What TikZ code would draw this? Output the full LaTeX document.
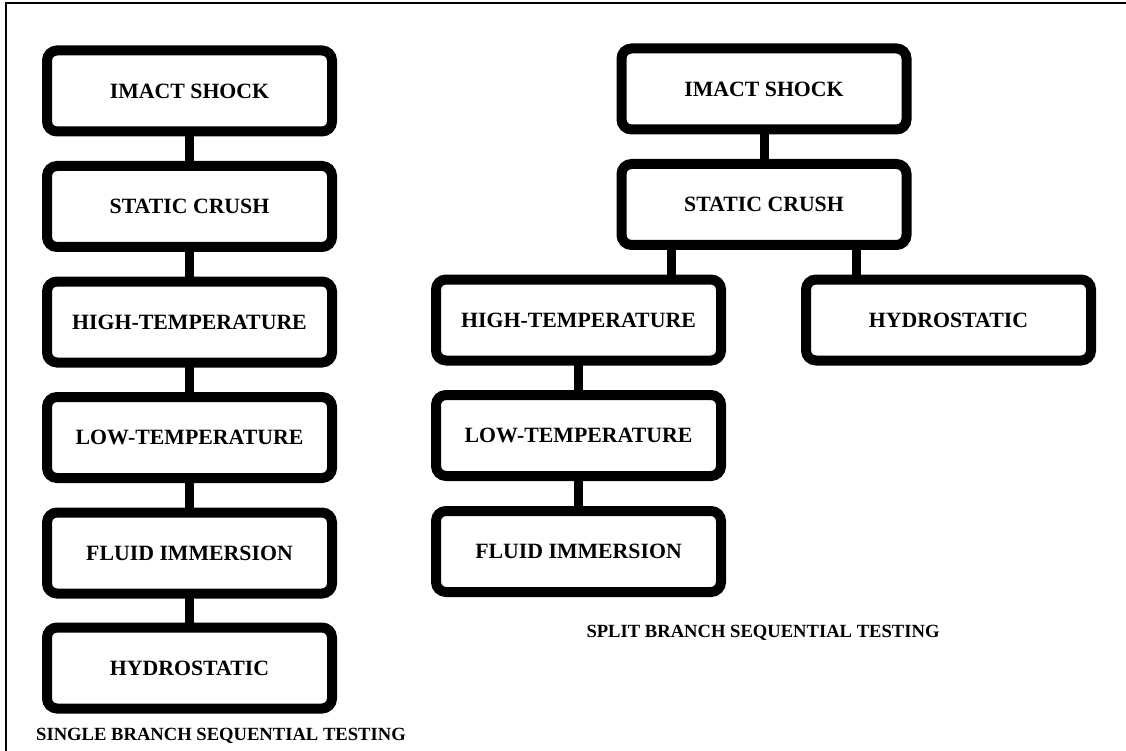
\documentclass[tikz,border=0pt]{standalone}
\usepackage{fontspec}
\setmainfont{Liberation Serif}
\usepackage{tikz}

\begin{document}
\begin{tikzpicture}[x=1pt, y=-1pt,
                      box/.style={draw, line width=10pt, rounded corners=10pt, fill=white,
                                  minimum width=285pt, minimum height=81pt, inner sep=0pt, outer sep=0pt,
                                  font=\fontsize{21.8}{24}\selectfont\bfseries},
                      link/.style={line width=9pt},
                      caption/.style={anchor=base, inner sep=0pt, font=\fontsize{18.6}{21}\selectfont\bfseries}]
                      \useasboundingbox (0, 0) rectangle (1126, 751);
                      \draw[line width=2pt] (6, 751) -- (6, 3) -- (1126, 3);
                      % single branch
                      \node[box] (l1) at (189.5, 91) {IMACT SHOCK};
                      \node[box] (l2) at (189.5, 206.5) {STATIC CRUSH};
                      \node[box] (l3) at (189.5, 322) {HIGH-TEMPERATURE};
                      \node[box] (l4) at (189.5, 437.5) {LOW-TEMPERATURE};
                      \node[box] (l5) at (189.5, 553) {FLUID IMMERSION};
                      \node[box] (l6) at (189.5, 668) {HYDROSTATIC};
                      \draw[link] (l1.south) -- (l2.north);
                      \draw[link] (l2.south) -- (l3.north);
                      \draw[link] (l3.south) -- (l4.north);
                      \draw[link] (l4.south) -- (l5.north);
                      \draw[link] (l5.south) -- (l6.north);
                      \node[caption] (single) at (221, 740) {SINGLE BRANCH SEQUENTIAL TESTING};
                      % split branch
                      \node[box] (r1) at (764, 89) {IMACT SHOCK};
                      \node[box] (r2) at (764, 204.5) {STATIC CRUSH};
                      \node[box] (r3) at (578.5, 320) {HIGH-TEMPERATURE};
                      \node[box] (r4) at (948.5, 320) {HYDROSTATIC};
                      \node[box] (r5) at (578.5, 435.5) {LOW-TEMPERATURE};
                      \node[box] (r6) at (578.5, 551.5) {FLUID IMMERSION};
                      \draw[link] (r1.south) -- (r2.north);
                      \draw[link] ([xshift=-92.5pt]r2.south) -- ([xshift=-92.5pt]r2.south |- r3.north);
                      \draw[link] ([xshift=92.5pt]r2.south) -- ([xshift=92.5pt]r2.south |- r4.north);
                      \draw[link] (r3.south) -- (r5.north);
                      \draw[link] (r5.south) -- (r6.north);
                      \node[caption] (split) at (763, 637) {SPLIT BRANCH SEQUENTIAL TESTING};
                  \end{tikzpicture}
\end{document}
